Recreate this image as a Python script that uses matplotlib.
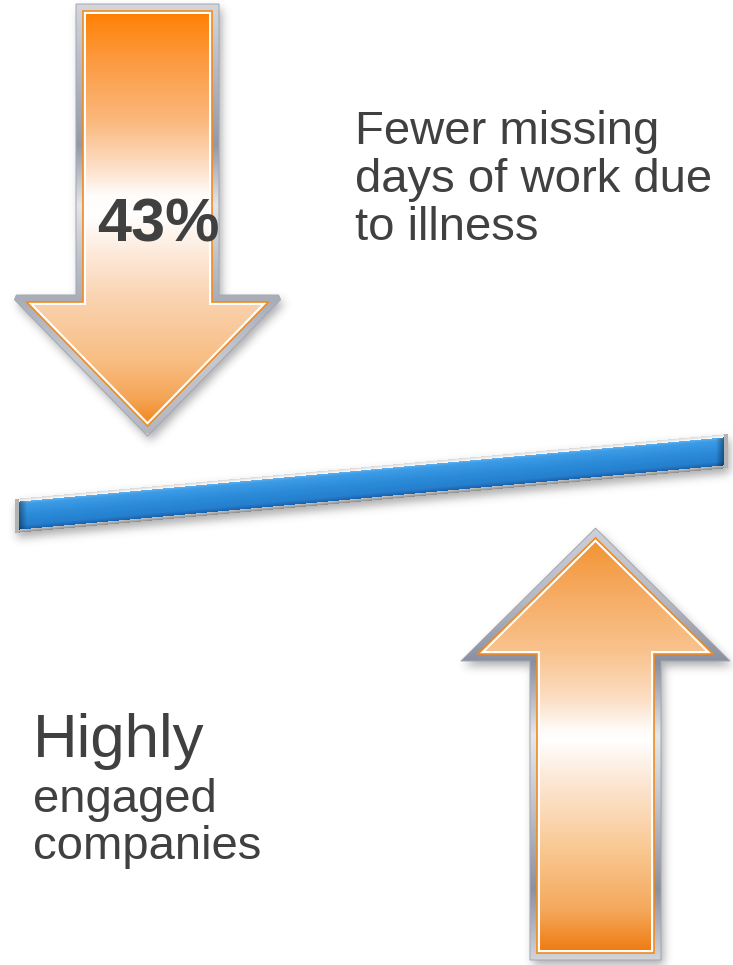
import numpy as np
import matplotlib
matplotlib.use('Agg')
import matplotlib.pyplot as plt
from matplotlib.patches import Polygon
from matplotlib.path import Path
from matplotlib.colors import LinearSegmentedColormap, to_rgb

# texts of the infographic
pct_label = "43%"
top_lines = ["Fewer missing", "days of work due", "to illness"]
bottom_lines = ["Highly", "engaged", "companies"]
text_color = "#404040"

W, H = 733, 965

# arrow shapes: cx, base y, neck y, tip y, shaft half width, head half width
down_arrow = (147.5, 11, 302, 426, 64.5, 121)
up_arrow = (595.5, 953, 654, 538, 58.5, 117.5)

# colour stops (y position, colour)
down_fill = [(11, '#FF8003'), (60, '#FC9A40'), (120, '#FBB77C'), (170, '#FDE2CC'),
             (195, '#FFFCFA'), (215, '#FFFFFF'), (260, '#FDE6D4'), (302, '#FAD2AE'),
             (360, '#F8BE84'), (400, '#F5A455'), (426, '#F08515')]
down_frame = [(4, '#D4D6DC'), (60, '#BABDC6'), (145, '#9599A7'), (205, '#E4E5E8'),
              (260, '#BDC0C8'), (300, '#A9ADB8'), (360, '#C6C9D0'), (433, '#B3B6BF')]
up_fill = [(538, '#F39332'), (600, '#F6AE68'), (654, '#F9C490'), (700, '#FCDFC6'),
           (728, '#FFFAF6'), (740, '#FFFFFF'), (775, '#FDEADB'), (850, '#F9C892'),
           (910, '#F5A85C'), (953, '#F07A10')]
up_frame = [(528, '#CDD0D6'), (600, '#B6B9C3'), (662, '#8A8FA0'), (735, '#E6E7EA'),
            (800, '#C3C6CD'), (890, '#8C91A0'), (960, '#D2D4DA')]

bar_left = (15, 516)
bar_right = (728, 451)


def arrow_pts(cx, base_y, neck_y, tip_y, shw, hhw):
    return np.array([[cx - shw, base_y], [cx + shw, base_y], [cx + shw, neck_y],
                     [cx + hhw, neck_y], [cx, tip_y], [cx - hhw, neck_y],
                     [cx - shw, neck_y]], dtype=float)


def offset_poly(pts, d, limit=None):
    # d > 0 grows the polygon, d < 0 shrinks it; long miters get cut at `limit`
    n = len(pts)
    area = 0.5 * np.sum(pts[:, 0] * np.roll(pts[:, 1], -1) - np.roll(pts[:, 0], -1) * pts[:, 1])
    sgn = 1 if area > 0 else -1
    lines = []
    for i in range(n):
        p, q = pts[i], pts[(i + 1) % n]
        dv = q - p
        nv = np.array([dv[1], -dv[0]]) / np.hypot(*dv) * sgn
        lines.append((p + nv * d, dv))
    out = []
    for i in range(n):
        a1, d1 = lines[i - 1]
        a2, d2 = lines[i]
        cr = d1[0] * d2[1] - d1[1] * d2[0]
        diff = a2 - a1
        t = (diff[0] * d2[1] - diff[1] * d2[0]) / cr
        v = a1 + t * d1
        off = v - pts[i]
        if limit is not None and np.hypot(*off) > limit:
            u = off / np.hypot(*off)
            t1 = (limit - (a1 - pts[i]) @ u) / (d1 @ u)
            t2 = (limit - (a2 - pts[i]) @ u) / (d2 @ u)
            out.append(a1 + t1 * d1)
            out.append(a2 + t2 * d2)
        else:
            out.append(v)
    return np.array(out)


yy, xx = np.mgrid[0:H, 0:W] + 0.5
grid = np.column_stack([xx.ravel(), yy.ravel()])


def mask_of(poly):
    return Path(poly).contains_points(grid).reshape(H, W).astype(float)


def blur(a, sigma):
    r = int(3 * sigma)
    k = np.exp(-0.5 * (np.arange(-r, r + 1) / sigma) ** 2)
    k /= k.sum()
    a = np.apply_along_axis(lambda m: np.convolve(m, k, mode='same'), 0, a)
    a = np.apply_along_axis(lambda m: np.convolve(m, k, mode='same'), 1, a)
    return a


def grad_fill(ax, poly, stops, z):
    y0 = min(s[0] for s in stops)
    y1 = max(s[0] for s in stops)
    cmap = LinearSegmentedColormap.from_list('g', [((y - y0) / (y1 - y0), c) for y, c in stops])
    g = np.linspace(0, 1, 512).reshape(-1, 1)
    im = ax.imshow(g, cmap=cmap, extent=(poly[:, 0].min() - 2, poly[:, 0].max() + 2, y1, y0),
                   origin='upper', aspect='auto', interpolation='bilinear', zorder=z)
    patch = Polygon(poly, closed=True, facecolor='none', edgecolor='none')
    ax.add_patch(patch)
    im.set_clip_path(patch)


def draw_arrow(ax, spec, fill_stops, frame_stops, limit):
    poly = arrow_pts(*spec)
    outer = offset_poly(poly, 7, limit=limit)
    grad_fill(ax, outer, frame_stops, 2)
    ax.add_patch(Polygon(outer, closed=True, facecolor='none', edgecolor='#A3A7B2', lw=0.7, zorder=2.1))
    ax.add_patch(Polygon(poly, closed=True, facecolor='white', edgecolor='none', zorder=2.2))
    ax.add_patch(Polygon(poly, closed=True, facecolor='none', edgecolor='#F28A1E', lw=1.2, zorder=2.4))
    grad_fill(ax, offset_poly(poly, -3), fill_stops, 2.3)
    return outer


fig = plt.figure(figsize=(W / 100, H / 100), dpi=100)
ax = fig.add_axes([0, 0, 1, 1])

outer_down = draw_arrow(ax, down_arrow, down_fill, down_frame, 12)
outer_up = draw_arrow(ax, up_arrow, up_fill, up_frame, None)

# soft shadows
shadow = np.zeros((H, W))
for outer in (outer_down, outer_up):
    shadow += mask_of(outer + np.array([3, 5]))
bar_poly = np.array([[bar_left[0], bar_left[1] - 17], [bar_right[0], bar_right[1] - 17],
                     [bar_right[0], bar_right[1] + 17], [bar_left[0], bar_left[1] + 17]])
shadow += mask_of(bar_poly + np.array([2, 5]))
shadow = blur(np.clip(shadow, 0, 1), 4.5)
sh = np.zeros((H, W, 4))
sh[..., :3] = 0.25
sh[..., 3] = shadow * 0.42
ax.imshow(sh, extent=(0, W, H, 0), origin='upper', zorder=1, interpolation='bilinear')

# blue bar
bx0, bx1, by0, by1 = 10, 733, 420, 545
BX, BY = np.meshgrid(np.arange(bx0, bx1) + 0.5, np.arange(by0, by1) + 0.5)
yc = bar_left[1] + (bar_right[1] - bar_left[1]) * (BX - bar_left[0]) / (bar_right[0] - bar_left[0])
t = BY - yc
inside = (BX >= bar_left[0]) & (BX <= bar_right[0]) & (np.abs(t) <= 17)
blue = LinearSegmentedColormap.from_list('b', [(0, '#5EAFEE'), (0.1, '#3D9CE6'), (0.5, '#2B8BD9'),
                                               (0.85, '#257FCE'), (1, '#1A62AC')])
top_frame = LinearSegmentedColormap.from_list('t', ['#D9D9D9', '#FBFBFB'])
bot_frame = LinearSegmentedColormap.from_list('f', ['#C2C2C2', '#8E8E8E'])
rgb = np.zeros(BX.shape + (3,))
tb = np.clip((t + 14) / 28, 0, 1)
rgb[:] = blue(tb)[..., :3]
dx_end = np.minimum(BX - bar_left[0], bar_right[0] - BX)
shade = 0.6 + 0.4 * np.clip((dx_end - 4) / 8, 0, 1)
rgb *= shade[..., None]
m_top = t < -14
rgb[m_top] = top_frame(np.clip((t[m_top] + 17) / 3, 0, 1))[:, :3]
m_bot = t > 14
rgb[m_bot] = bot_frame(np.clip((t[m_bot] - 14) / 3, 0, 1))[:, :3]
m_end = dx_end < 4
rgb[m_end] = to_rgb('#B4B4B4')
bar_img = np.concatenate([rgb, inside[..., None].astype(float)], axis=2)
ax.imshow(bar_img, extent=(bx0, bx1, by1, by0), origin='upper', zorder=3, interpolation='bilinear')

# texts
ax.text(97, 242, pct_label, fontsize=44, fontweight='bold', color=text_color,
        family='Liberation Sans', ha='left', va='baseline', zorder=5)
for i, line in enumerate(top_lines):
    ax.text(355, 144 + 48 * i, line, fontsize=34, color=text_color,
            family='Liberation Sans', ha='left', va='baseline', zorder=5)
ax.text(33, 757, bottom_lines[0], fontsize=44.5, color=text_color,
        family='Liberation Sans', ha='left', va='baseline', zorder=5)
for i, line in enumerate(bottom_lines[1:]):
    ax.text(33, 812 + 47 * i, line, fontsize=34, color=text_color,
            family='Liberation Sans', ha='left', va='baseline', zorder=5)

ax.set_xlim(0, W)
ax.set_ylim(H, 0)
ax.set_aspect('auto')
ax.axis('off')
fig.savefig('out.png', dpi=100, facecolor='white')
